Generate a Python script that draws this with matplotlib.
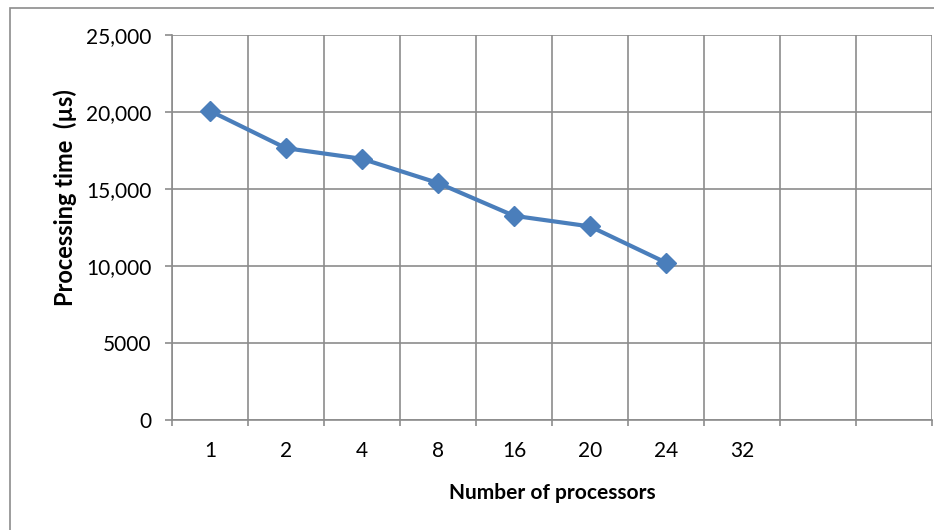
import matplotlib
matplotlib.use("Agg")
import matplotlib.pyplot as plt
from matplotlib.patches import Rectangle

# Processing time versus number of processors
processors = ["1", "2", "4", "8", "16", "20", "24", "32", "", ""]
times_us = [20070, 17650, 16960, 15390, 13260, 12570, 10220]
y_ticks = [0, 5000, 10000, 15000, 20000, 25000]
y_tick_labels = ["0", "5000", "10,000", "15,000", "20,000", "25,000"]

W, H = 934, 530
fig = plt.figure(figsize=(W / 100, H / 100), dpi=100)
plt.rcParams["font.family"] = ["Lato", "DejaVu Sans"]

grid_c = "#8c8c8c"
line_c = "#4a7ebb"
fs = 15

# outer chart border (left and top edges visible)
fig.patches.append(Rectangle((10 / W, -0.1), 1.2, (H - 8) / H + 0.1,
                             transform=fig.transFigure, fill=False,
                             edgecolor=grid_c, linewidth=1.2, zorder=0))

left, right, top, bottom = 172, 932, 35, 420
ax = fig.add_axes([left / W, 1 - bottom / H, (right - left) / W, (bottom - top) / H])

n = len(processors)
ax.set_xlim(0, n)
ax.set_ylim(0, 25000)

xs = [i + 0.5 for i in range(len(times_us))]
ax.plot(xs, times_us, color=line_c, linewidth=3.0, marker="D", markersize=10,
        markerfacecolor=line_c, markeredgecolor=line_c, zorder=3, clip_on=False)

# category boundaries as gridlines and ticks
ax.set_xticks(range(n + 1), minor=False)
ax.set_xticklabels([])
ax.set_xticks([i + 0.5 for i in range(n)], minor=True)
ax.set_xticklabels(processors, minor=True, fontsize=fs)
ax.tick_params(axis="x", which="major", length=4.5, width=1.2, color=grid_c, direction="out")
ax.tick_params(axis="x", which="minor", length=0, pad=15)

ax.set_yticks(y_ticks)
ax.set_yticklabels(y_tick_labels, fontsize=fs)
ax.tick_params(axis="y", length=5, width=1.2, color=grid_c, direction="out", pad=10)

ax.grid(True, which="major", color=grid_c, linewidth=1.2)
ax.set_axisbelow(True)
for s in ["top", "right"]:
    ax.spines[s].set_visible(False)
for s in ["left", "bottom"]:
    ax.spines[s].set_color(grid_c)
    ax.spines[s].set_linewidth(1.2)

ax.set_xlabel("Number of processors", fontsize=fs, fontweight="bold", labelpad=16)
fig.text(65 / W, 1 - 198 / H, "Processing time  (\u00b5s)", rotation=90,
         fontsize=17, fontweight="bold", ha="center", va="center")

fig.savefig("out.png", dpi=100)
